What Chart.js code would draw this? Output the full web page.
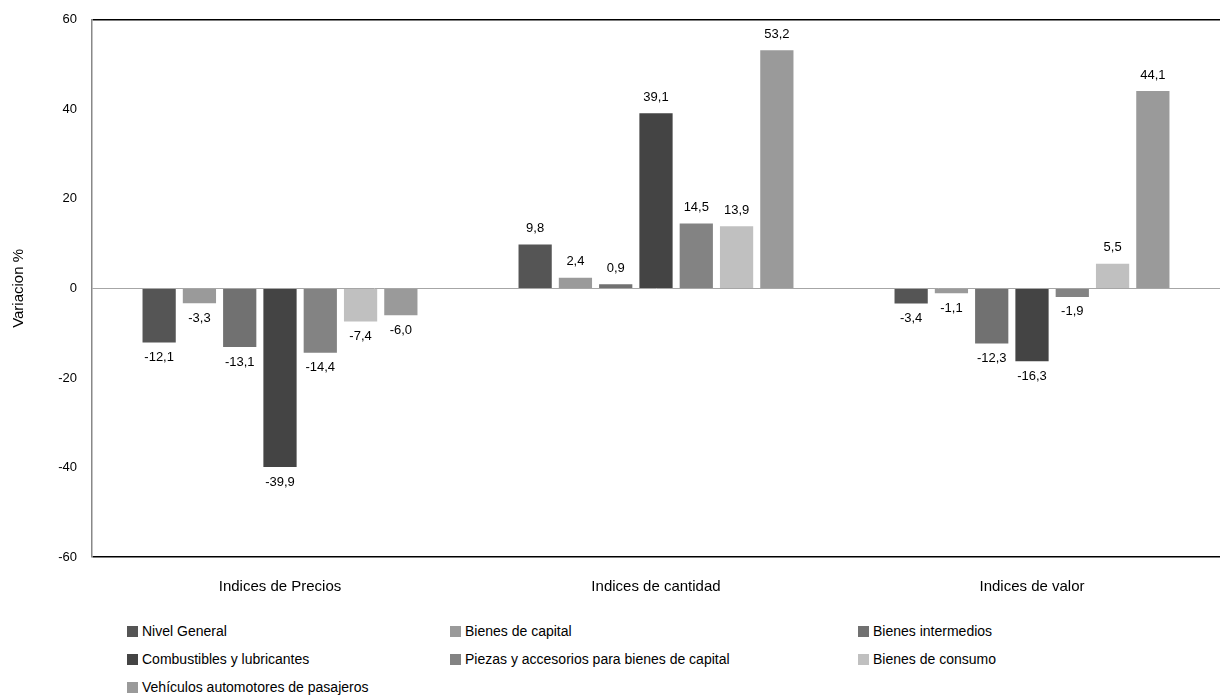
<!DOCTYPE html>
<html>
<head>
<meta charset="utf-8">
<script src="https://cdn.jsdelivr.net/npm/chart.js@4.4.0/dist/chart.umd.min.js"></script>
<style>
  html, body { margin: 0; padding: 0; background: #fff; overflow: hidden; }
  #wrap { position: relative; width: 1220px; height: 697px; overflow: hidden; }
  #c { position: absolute; left: 0; top: -3px; }
  .lg { position: absolute; font-family: "Liberation Sans", Arial, sans-serif; font-size: 14px; color: #000; white-space: nowrap; line-height: 16px; }
  .lg span.sq { display: inline-block; width: 11px; height: 11px; margin-right: 4px; vertical-align: -1px; }
</style>
</head>
<body>
<div id="wrap">
  <canvas id="c" width="1220" height="620"></canvas>
  <div id="legend"></div>
</div>
<script>
const categories = ["Indices de Precios", "Indices de cantidad", "Indices de valor"];
const seriesNames = ["Nivel General", "Bienes de capital", "Bienes intermedios", "Combustibles y lubricantes", "Piezas y accesorios para bienes de capital", "Bienes de consumo", "Vehículos automotores de pasajeros"];
const nivelGeneral = [-12.1, 9.8, -3.4];
const bienesCapital = [-3.3, 2.4, -1.1];
const bienesIntermedios = [-13.1, 0.9, -12.3];
const combustibles = [-39.9, 39.1, -16.3];
const piezas = [-14.4, 14.5, -1.9];
const bienesConsumo = [-7.4, 13.9, 5.5];
const vehiculos = [-6.0, 53.2, 44.1];
const seriesValues = [nivelGeneral, bienesCapital, bienesIntermedios, combustibles, piezas, bienesConsumo, vehiculos];
const seriesColors = ["#555555", "#9a9a9a", "#717171", "#444444", "#838383", "#c0c0c0", "#9a9a9a"];
const yTicks = [-60, -40, -20, 0, 20, 40, 60];

const FONT = '"Liberation Sans", Arial, sans-serif';

const labelPlugin = {
  id: 'valueLabels',
  afterDatasetsDraw(chart) {
    const ctx = chart.ctx;
    ctx.save();
    ctx.font = '13px ' + FONT;
    ctx.fillStyle = '#000';
    ctx.textAlign = 'center';
    ctx.textBaseline = 'middle';
    chart.data.datasets.forEach((ds, di) => {
      const meta = chart.getDatasetMeta(di);
      meta.data.forEach((bar, i) => {
        const v = ds.data[i];
        const txt = v.toFixed(1).replace('.', ',');
        const y = v >= 0 ? bar.y - 16 : bar.y + 15;
        ctx.fillText(txt, bar.x, y);
      });
    });
    ctx.restore();
  }
};

new Chart(document.getElementById('c'), {
  type: 'bar',
  data: {
    labels: categories,
    datasets: seriesValues.map((vals, i) => ({
      label: seriesNames[i],
      data: vals,
      backgroundColor: seriesColors[i],
      borderWidth: 0,
      categoryPercentage: 0.75,
      barPercentage: 0.825
    }))
  },
  options: {
    responsive: false,
    animation: false,
    layout: { padding: { top: 11, right: 0, left: 0, bottom: 0 } },
    plugins: { legend: { display: false }, tooltip: { enabled: false } },
    scales: {
      x: {
        grid: { display: false },
        border: { display: false },
        ticks: { color: '#000', font: { family: FONT, size: 15 }, padding: 13 },
        afterFit(s) { s.height = 60; }
      },
      y: {
        min: -60, max: 60,
        afterBuildTicks(s) { s.ticks = yTicks.map(v => ({ value: v })); },
        grid: {
          drawTicks: false,
          color(ctx) {
            const v = ctx.tick && ctx.tick.value;
            if (v === 60 || v === -60) return '#000';
            if (v === 0) return '#a6a6a6';
            return 'rgba(0,0,0,0)';
          },
          lineWidth(ctx) {
            const v = ctx.tick && ctx.tick.value;
            return (v === 60 || v === -60) ? 1.5 : 1;
          }
        },
        border: { display: true, color: '#888', width: 1.5 },
        ticks: { color: '#000', font: { family: FONT, size: 13 }, padding: 15 },
        title: { display: true, text: 'Variacion %', color: '#000', font: { family: FONT, size: 15 }, padding: { top: 10, bottom: 4 } },
        afterFit(s) { s.width = 92; }
      }
    }
  },
  plugins: [labelPlugin]
});

// HTML legend
const legendPos = [
  [127, 631], [450, 631], [858, 631],
  [127, 659], [450, 659], [858, 659],
  [127, 687]
];
const lg = document.getElementById('legend');
seriesNames.forEach((n, i) => {
  const d = document.createElement('div');
  d.className = 'lg';
  d.style.left = legendPos[i][0] + 'px';
  d.style.top = (legendPos[i][1] - 8) + 'px';
  d.innerHTML = '<span class="sq" style="background:' + seriesColors[i] + '"></span>' + n;
  lg.appendChild(d);
});
</script>
</body>
</html>
